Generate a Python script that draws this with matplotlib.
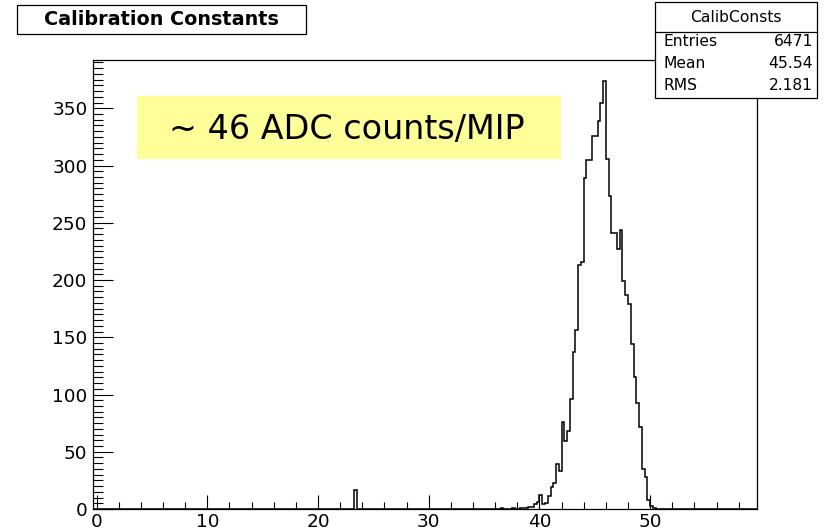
import numpy as np
import matplotlib
matplotlib.use("Agg")
import matplotlib.pyplot as plt
from matplotlib.patches import Rectangle
from matplotlib.ticker import MultipleLocator

plt.rcParams['font.family'] = ['DejaVu Sans']

# ---- data ----
hist_left = [23.25, 36.5, 37.5, 38.25, 38.5, 38.75, 39.0, 39.25, 39.5, 39.75,
             40.0, 40.25, 40.5, 40.75, 41.0, 41.25, 41.5, 41.75,
             42.0, 42.25, 42.5, 42.75, 43.0, 43.25, 43.5, 43.75,
             44.0, 44.25, 44.5, 44.75, 45.0, 45.25, 45.5, 45.75,
             46.0, 46.25, 46.5, 46.75, 47.0, 47.25, 47.5, 47.75,
             48.0, 48.25, 48.5, 48.75, 49.0, 49.25, 49.5, 49.75,
             50.0, 50.25]
hist_counts = [17, 1, 1, 1, 1, 1, 2, 2, 4, 6,
               12, 4, 5, 11, 19, 23, 39, 33,
               76, 59, 68, 96, 137, 156, 213, 216,
               289, 305, 305, 326, 326, 339, 355, 374,
               306, 273, 241, 241, 227, 244, 199, 187,
               179, 144, 115, 93, 72, 35, 28, 8,
               3, 1]
bin_width = 0.25
x_low, x_high = -0.25, 59.75
n_bins = 240

title = "Calibration Constants"
stats_name = "CalibConsts"
stats_labels = ["Entries", "Mean", "RMS"]
stats_values = ["6471", "45.54", "2.181"]
annotation = "\u223c 46 ADC counts/MIP"

W, H = 829, 530
fig = plt.figure(figsize=(W / 100, H / 100), dpi=100)
fig.patch.set_facecolor('white')


def fx(x):
    return x / W


def fy(y):
    return 1 - y / H


ax_l, ax_r, ax_t, ax_b = 93, 757, 59.5, 509
ax = fig.add_axes([fx(ax_l), fy(ax_b), fx(ax_r) - fx(ax_l), fy(ax_t) - fy(ax_b)])

edges = x_low + bin_width * np.arange(n_bins + 1)
centers = np.array(hist_left) + bin_width / 2
ax.hist(centers, bins=edges, weights=hist_counts, histtype='step',
        color='black', linewidth=1.1)

ax.set_xlim(-0.32, 59.65)
ax.set_ylim(0, 392.6)

ax.xaxis.set_major_locator(MultipleLocator(10))
ax.xaxis.set_minor_locator(MultipleLocator(2))
ax.yaxis.set_major_locator(MultipleLocator(50))
ax.yaxis.set_minor_locator(MultipleLocator(5))
ax.set_xticks([0, 10, 20, 30, 40, 50])

ax.tick_params(axis='x', which='major', direction='in', length=10, width=0.8,
               labelsize=13.3, pad=3, top=False)
ax.tick_params(axis='x', which='minor', direction='in', length=5, width=0.8, top=False)
ax.tick_params(axis='y', which='major', direction='in', length=14.4, width=0.8,
               labelsize=13.3, pad=4, right=False)
ax.tick_params(axis='y', which='minor', direction='in', length=7.2, width=0.8, right=False)
for s in ax.spines.values():
    s.set_linewidth(0.9)

# title box
fig.add_artist(Rectangle((fx(17), fy(34)), fx(306) - fx(17), fy(5) - fy(34),
                         transform=fig.transFigure, facecolor='white',
                         edgecolor='black', linewidth=0.9))
fig.text(fx(161), fy(19.5), title, ha='center', va='center',
         fontsize=13.8, fontweight='bold')

# stats box
fig.add_artist(Rectangle((fx(655), fy(97.5)), fx(817) - fx(655), fy(2) - fy(97.5),
                         transform=fig.transFigure, facecolor='white',
                         edgecolor='black', linewidth=0.9, zorder=5))
fig.add_artist(plt.Line2D([fx(655), fx(817)], [fy(31.5), fy(31.5)],
                          transform=fig.transFigure, color='black',
                          linewidth=0.9, zorder=6))
fig.text(fx(736), fy(17), stats_name, ha='center', va='center',
         fontsize=11.2, zorder=7)
rows_y = [41.5, 63.5, 85]
for lab, val, yy in zip(stats_labels, stats_values, rows_y):
    fig.text(fx(664), fy(yy), lab, ha='left', va='center', fontsize=11.2, zorder=7)
    fig.text(fx(813), fy(yy), val, ha='right', va='center', fontsize=11.2, zorder=7)

# yellow annotation box
fig.add_artist(Rectangle((fx(137), fy(159)), fx(561) - fx(137), fy(96) - fy(159),
                         transform=fig.transFigure, facecolor='#ffff99',
                         edgecolor='none', zorder=3))
fig.text(fx(347), fy(130), annotation, ha='center', va='center',
         fontsize=24, zorder=4)

fig.savefig("out.png", dpi=100, facecolor='white')
